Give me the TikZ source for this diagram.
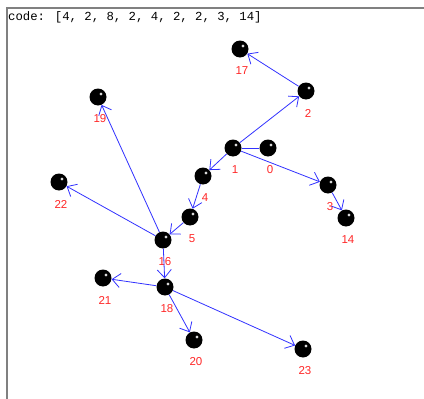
\documentclass[tikz,border=0pt]{standalone}
\usepackage{fontspec}
\setmainfont{Liberation Sans}
\newfontfamily\codefont{Liberation Mono}
\usetikzlibrary{arrows.meta}
\definecolor{lblred}{RGB}{255,40,40}
\definecolor{edgeblue}{RGB}{50,50,255}
\begin{document}
\begin{tikzpicture}[x=1pt,y=-1pt,
  ball/.style={circle,fill=black,minimum size=17pt,inner sep=0pt,
    path picture={\fill[gray!60] ([xshift=3pt,yshift=3pt]path picture bounding box.center) circle (1.6pt);
                  \fill[white] ([xshift=3pt,yshift=3pt]path picture bounding box.center) circle (0.9pt);}},
  lbl/.style={text=lblred,font=\fontsize{11.5}{12}\selectfont,inner sep=0pt},
  edge/.style={draw=edgeblue,line width=0.8pt,-{Straight Barb[length=8pt,width=14pt,line width=0.8pt]}},
  plain/.style={draw=edgeblue,line width=0.8pt},
  frame/.style={draw=gray,line width=1.3pt}]
\useasboundingbox (0,0) rectangle (424,399);
\fill[white] (0,0) rectangle (424,399);
\coordinate (tl) at (7,8);
\coordinate (tr) at (424,8);
\coordinate (bl) at (7,399);
\draw[frame] (tr) -- (tl) -- (bl);
\node[anchor=base west,inner sep=0pt,font=\codefont\fontsize{12.3}{13}\selectfont] (code) at (8,20) {code: [4, 2, 8, 2, 4, 2, 2, 3, 14]};
% nodes
\foreach \n/\x/\y in {17/240/49, 2/306/91, 1/233/148, 0/268/148, 3/328/185, 14/346/218,
  4/203/176, 5/190/217, 16/163/240, 19/98/97, 22/59/182, 18/165/287, 21/103/278,
  20/194/340, 23/303/349}{
  \node[ball] (n\n) at (\x,\y) {};
  \node[lbl] (l\n) at (\x+2,\y+22) {\n};
}
% edges
\draw[edge] (n2) -- (n17);
\draw[edge] (n1) -- (n2);
\draw[plain] (n0) -- (n1);
\draw[edge] (n1) -- (n4);
\draw[edge] (n1) -- (n3);
\draw[edge] (n3) -- (n14);
\draw[edge] (n4) -- (n5);
\draw[edge] (n5) -- (n16);
\draw[edge] (n16) -- (n19);
\draw[edge] (n16) -- (n22);
\draw[edge] (n16) -- (n18);
\draw[edge] (n18) -- (n21);
\draw[edge] (n18) -- (n20);
\draw[edge] (n18) -- (n23);
\end{tikzpicture}
\end{document}
